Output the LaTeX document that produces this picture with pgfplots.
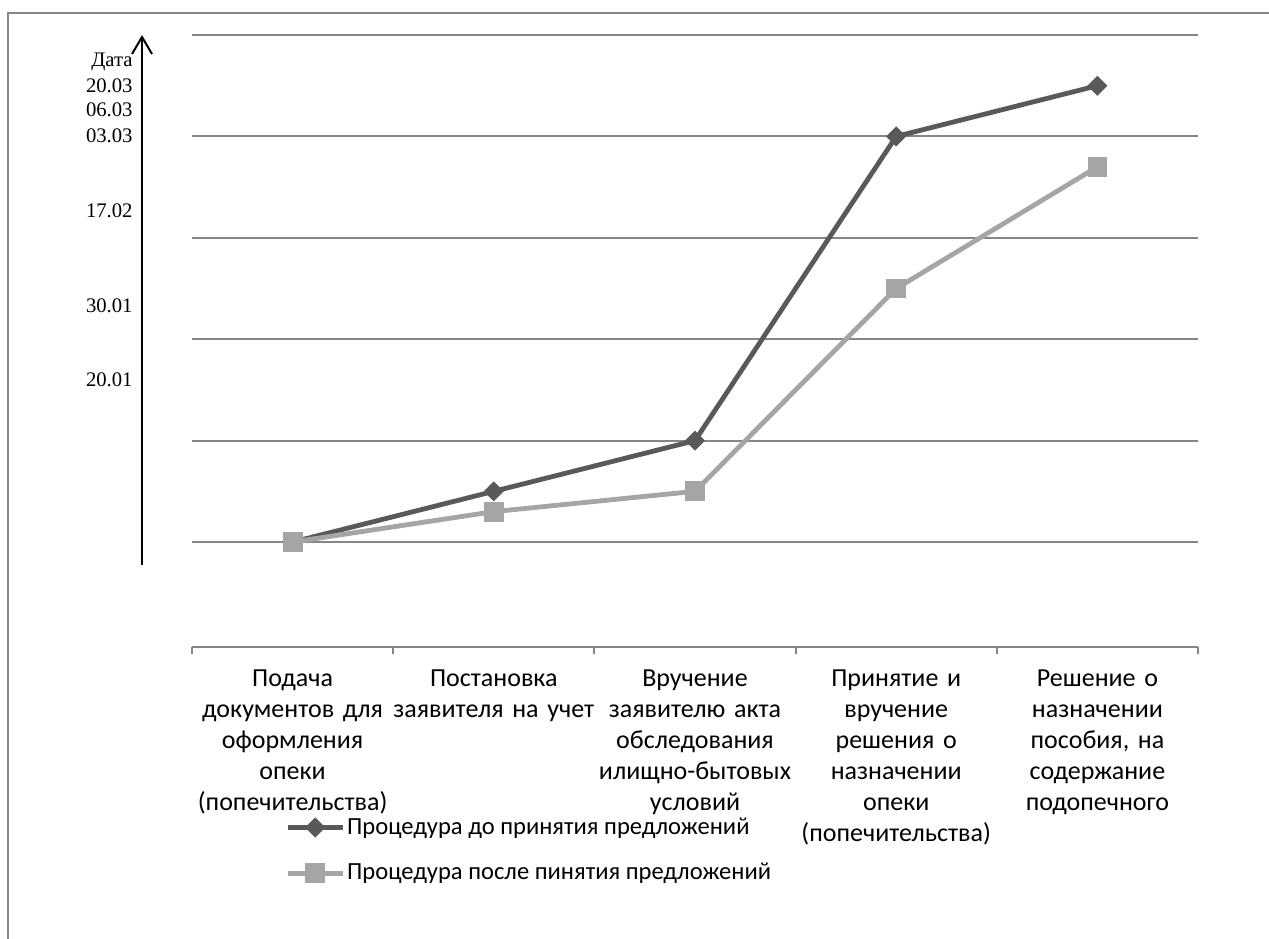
\documentclass[border=0pt]{standalone}
\usepackage{fontspec}
\setmainfont{Carlito}
\newfontfamily\timesfont{Liberation Serif}
\usepackage{pgfplots}
\usepackage{pgfplotstable}
\pgfplotsset{compat=1.18}
\usetikzlibrary{arrows.meta}

\definecolor{beforecol}{HTML}{595959}
\definecolor{aftercol}{HTML}{A5A5A5}
\definecolor{gridgray}{HTML}{868686}

% step index / relative date level
\pgfplotstableread{
x y
0 0
1 0.5
2 1
3 4
4 4.5
}\tblbefore

\pgfplotstableread{
x y
0 0
1 0.3
2 0.5
3 2.5
4 3.7
}\tblafter

\begin{document}
\begin{tikzpicture}
\useasboundingbox (-96pt,-145.5pt) rectangle (538.5pt,323.5pt);
\clip (-96pt,-145.5pt) rectangle (538.5pt,323.5pt);
% chart area frame (top and left edges)
\fill[gridgray] (-92.375pt,-160pt) rectangle (-91.625pt,317.375pt);
\fill[gridgray] (-92.375pt,316.625pt) rectangle (560pt,317.375pt);
\begin{axis}[
  at={(0pt,0pt)}, anchor=south west,
  scale only axis, width=503pt, height=306pt,
  xmin=-0.5, xmax=4.5, ymin=-1.035, ymax=5,
  clip=false,
  separate axis lines,
  axis x line*=bottom, axis y line*=left,
  x axis line style={-, gridgray, line width=1pt},
  y axis line style={draw=none},
  xtick pos=lower, ytick pos=left,
  tick align=outside,
  major tick length=0pt,
  minor tick length=3.5pt,
  xtick={0,1,2,3,4},
  minor xtick={-0.5,0.5,1.5,2.5,3.5,4.5},
  minor x tick style={gridgray, line width=1pt},
  xticklabels={
    {Подача\\документов для\\оформления\\опеки\\(попечительства)},
    {Постановка\\заявителя на учет},
    {Вручение\\заявителю акта\\обследования\\илищно-бытовых\\условий},
    {Принятие и\\вручение\\решения о\\назначении\\опеки\\(попечительства)},
    {Решение о\\назначении\\пособия, на\\содержание\\подопечного}},
  xticklabel style={font=\fontsize{13pt}{15.5pt}\selectfont, align=center,
    text width=108pt, anchor=north, inner sep=0pt, yshift=-11pt},
  ytick={0,1,2,3,4,5},
  yticklabels={},
  ymajorgrids,
  major grid style={gridgray, line width=1pt},
  extra y ticks={1.60,2.33,3.27,4.01,4.26,4.50,4.73},
  extra y tick labels={20.01,30.01,17.02,03.03,06.03,20.03,Дата},
  extra y tick style={grid=none, tick style={draw=none},
    yticklabel style={font=\timesfont\fontsize{10.35pt}{12pt}\selectfont,
      anchor=east, inner sep=0pt, xshift=-29.5pt}},
  legend style={draw=none, fill=none, at={(0.0924,-0.275)}, anchor=north west,
    legend cell align=left, row sep=11pt, inner sep=0pt,
    font=\fontsize{12.3pt}{14pt}\selectfont, nodes={inner sep=1pt}},
  legend image code/.code={\draw[mark repeat=2, mark phase=2, #1]
    plot coordinates {(0pt,0pt) (13.75pt,0pt) (27.5pt,0pt)};},
]
\addplot[color=beforecol, line width=2.4pt, mark=square*, mark size=3.3pt,
  mark options={solid, rotate=45, fill=beforecol, line width=0.5pt}] table {\tblbefore};
\addlegendentry{Процедура до принятия предложений}
\addplot[color=aftercol, line width=2.4pt, mark=square*, mark size=4.7pt,
  mark options={solid, fill=aftercol, line width=0.5pt}] table {\tblafter};
\addlegendentry{Процедура после пинятия предложений}
% date axis arrow
\draw[black, line width=1pt, -{Straight Barb[length=8.5pt, width=10pt]}]
  (axis cs:-0.7485,-0.227) -- (axis cs:-0.7485,5.0);
\end{axis}
\end{tikzpicture}
\end{document}
